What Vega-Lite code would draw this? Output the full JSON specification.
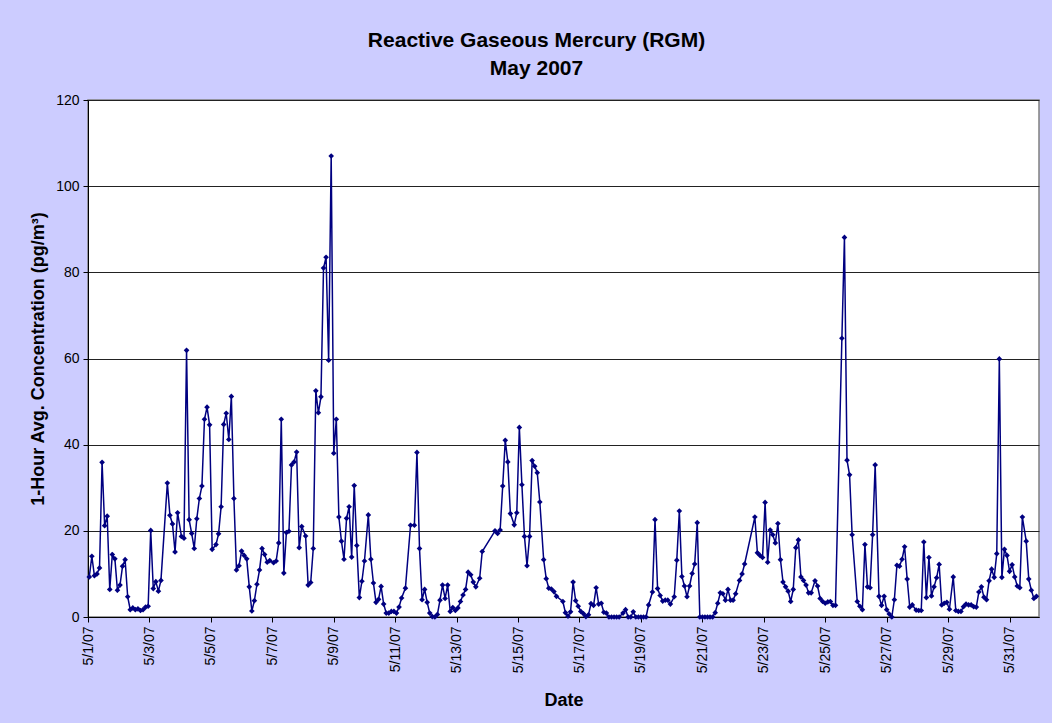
{
"$schema": "https://vega.github.io/schema/vega-lite/v6.json",
"width": 951, "height": 517,
"autosize": {"type": "none"},
"padding": {"left": 88, "top": 100, "right": 13, "bottom": 106},
"background": "#CCCCFF",
"title": {"text": ["Reactive Gaseous Mercury (RGM)", "May 2007"], "font": "Liberation Sans", "fontSize": 21, "fontWeight": "bold", "color": "black", "anchor": "middle", "dx": -27, "offset": 14, "lineHeight": 28},
"data": {"values": [
{"date":"2007-05-01T01:00","value":9.3},{"date":"2007-05-01T03:00","value":14.1},{"date":"2007-05-01T05:00","value":9.6},{"date":"2007-05-01T07:00","value":10.0},{"date":"2007-05-01T09:00","value":11.4},{"date":"2007-05-01T11:00","value":35.9},{"date":"2007-05-01T13:00","value":21.2},{"date":"2007-05-01T15:00","value":23.4},{"date":"2007-05-01T17:00","value":6.4},{"date":"2007-05-01T19:00","value":14.5},{"date":"2007-05-01T21:00","value":13.5},{"date":"2007-05-01T23:00","value":6.2},
{"date":"2007-05-02T01:00","value":7.4},{"date":"2007-05-02T03:00","value":11.8},{"date":"2007-05-02T05:00","value":13.3},{"date":"2007-05-02T07:00","value":4.7},{"date":"2007-05-02T09:00","value":1.7},{"date":"2007-05-02T11:00","value":2.1},{"date":"2007-05-02T13:00","value":1.7},{"date":"2007-05-02T15:00","value":1.9},{"date":"2007-05-02T17:00","value":1.5},{"date":"2007-05-02T19:00","value":1.7},{"date":"2007-05-02T21:00","value":2.3},{"date":"2007-05-02T23:00","value":2.5},
{"date":"2007-05-03T01:00","value":20.1},{"date":"2007-05-03T03:00","value":6.6},{"date":"2007-05-03T05:00","value":8.2},{"date":"2007-05-03T07:00","value":6.0},{"date":"2007-05-03T09:00","value":8.5},{"date":"2007-05-03T14:00","value":31.1},{"date":"2007-05-03T16:00","value":23.6},{"date":"2007-05-03T18:00","value":21.6},{"date":"2007-05-03T20:00","value":15.1},{"date":"2007-05-03T22:00","value":24.2},
{"date":"2007-05-04T01:00","value":18.7},{"date":"2007-05-04T03:00","value":18.3},{"date":"2007-05-04T05:00","value":61.9},{"date":"2007-05-04T07:00","value":22.6},{"date":"2007-05-04T09:00","value":19.4},{"date":"2007-05-04T11:00","value":15.9},{"date":"2007-05-04T13:00","value":22.8},{"date":"2007-05-04T15:00","value":27.5},{"date":"2007-05-04T17:00","value":30.4},{"date":"2007-05-04T19:00","value":45.9},{"date":"2007-05-04T21:00","value":48.7},{"date":"2007-05-04T23:00","value":44.6},
{"date":"2007-05-05T01:00","value":15.7},{"date":"2007-05-05T04:00","value":16.8},{"date":"2007-05-05T06:00","value":19.3},{"date":"2007-05-05T08:00","value":25.6},{"date":"2007-05-05T10:00","value":44.7},{"date":"2007-05-05T12:00","value":47.3},{"date":"2007-05-05T14:00","value":41.2},{"date":"2007-05-05T16:00","value":51.2},{"date":"2007-05-05T18:00","value":27.5},{"date":"2007-05-05T20:00","value":10.9},{"date":"2007-05-05T22:00","value":11.9},
{"date":"2007-05-06T00:00","value":15.3},{"date":"2007-05-06T02:00","value":14.3},{"date":"2007-05-06T04:00","value":13.5},{"date":"2007-05-06T06:00","value":7.0},{"date":"2007-05-06T08:00","value":1.4},{"date":"2007-05-06T10:00","value":3.8},{"date":"2007-05-06T12:00","value":7.6},{"date":"2007-05-06T14:00","value":10.9},{"date":"2007-05-06T16:00","value":15.9},{"date":"2007-05-06T18:00","value":14.5},{"date":"2007-05-06T20:00","value":12.7},{"date":"2007-05-06T22:00","value":13.1},
{"date":"2007-05-07T01:00","value":12.6},{"date":"2007-05-07T03:00","value":13.0},{"date":"2007-05-07T05:00","value":17.2},{"date":"2007-05-07T07:00","value":45.9},{"date":"2007-05-07T09:00","value":10.2},{"date":"2007-05-07T11:00","value":19.6},{"date":"2007-05-07T13:00","value":19.9},{"date":"2007-05-07T15:00","value":35.3},{"date":"2007-05-07T17:00","value":36.0},{"date":"2007-05-07T19:00","value":38.3},{"date":"2007-05-07T21:00","value":16.1},{"date":"2007-05-07T23:00","value":21.0},
{"date":"2007-05-08T02:00","value":18.8},{"date":"2007-05-08T04:00","value":7.4},{"date":"2007-05-08T06:00","value":8.0},{"date":"2007-05-08T08:00","value":15.9},{"date":"2007-05-08T10:00","value":52.5},{"date":"2007-05-08T12:00","value":47.4},{"date":"2007-05-08T14:00","value":51.1},{"date":"2007-05-08T16:00","value":81.0},{"date":"2007-05-08T18:00","value":83.5},{"date":"2007-05-08T20:00","value":59.6},{"date":"2007-05-08T22:00","value":107.0},
{"date":"2007-05-09T00:00","value":38.0},{"date":"2007-05-09T02:00","value":45.9},{"date":"2007-05-09T04:00","value":23.2},{"date":"2007-05-09T06:00","value":17.6},{"date":"2007-05-09T08:00","value":13.4},{"date":"2007-05-09T10:00","value":22.9},{"date":"2007-05-09T12:00","value":25.6},{"date":"2007-05-09T14:00","value":13.9},{"date":"2007-05-09T16:00","value":30.5},{"date":"2007-05-09T18:00","value":16.6},{"date":"2007-05-09T20:00","value":4.5},{"date":"2007-05-09T22:00","value":8.3},
{"date":"2007-05-10T00:00","value":13.0},{"date":"2007-05-10T03:00","value":23.7},{"date":"2007-05-10T05:00","value":13.4},{"date":"2007-05-10T07:00","value":7.9},{"date":"2007-05-10T09:00","value":3.4},{"date":"2007-05-10T11:00","value":4.1},{"date":"2007-05-10T13:00","value":7.1},{"date":"2007-05-10T15:00","value":3.0},{"date":"2007-05-10T17:00","value":0.9},{"date":"2007-05-10T19:00","value":0.9},{"date":"2007-05-10T21:00","value":1.3},{"date":"2007-05-10T23:00","value":1.3},
{"date":"2007-05-11T01:00","value":0.9},{"date":"2007-05-11T03:00","value":2.3},{"date":"2007-05-11T05:00","value":4.4},{"date":"2007-05-11T08:00","value":6.7},{"date":"2007-05-11T12:00","value":21.3},{"date":"2007-05-11T15:00","value":21.3},{"date":"2007-05-11T17:00","value":38.2},{"date":"2007-05-11T19:00","value":15.9},{"date":"2007-05-11T21:00","value":4.0},{"date":"2007-05-11T23:00","value":6.4},
{"date":"2007-05-12T01:00","value":3.4},{"date":"2007-05-12T03:00","value":0.9},{"date":"2007-05-12T05:00","value":0.1},{"date":"2007-05-12T07:00","value":0.0},{"date":"2007-05-12T09:00","value":0.6},{"date":"2007-05-12T11:00","value":3.9},{"date":"2007-05-12T13:00","value":7.4},{"date":"2007-05-12T15:00","value":4.3},{"date":"2007-05-12T17:00","value":7.4},{"date":"2007-05-12T19:00","value":1.3},{"date":"2007-05-12T21:00","value":2.2},{"date":"2007-05-12T23:00","value":1.5},
{"date":"2007-05-13T01:00","value":2.1},{"date":"2007-05-13T03:00","value":3.6},{"date":"2007-05-13T05:00","value":5.1},{"date":"2007-05-13T07:00","value":6.4},{"date":"2007-05-13T09:00","value":10.4},{"date":"2007-05-13T11:00","value":9.8},{"date":"2007-05-13T13:00","value":8.1},{"date":"2007-05-13T15:00","value":7.0},{"date":"2007-05-13T18:00","value":9.0},{"date":"2007-05-13T20:00","value":15.2},
{"date":"2007-05-14T06:00","value":20.0},{"date":"2007-05-14T08:00","value":19.4},{"date":"2007-05-14T10:00","value":20.2},{"date":"2007-05-14T12:00","value":30.4},{"date":"2007-05-14T14:00","value":41.0},{"date":"2007-05-14T16:00","value":36.0},{"date":"2007-05-14T18:00","value":24.0},{"date":"2007-05-14T21:00","value":21.4},{"date":"2007-05-14T23:00","value":24.2},
{"date":"2007-05-15T01:00","value":44.0},{"date":"2007-05-15T03:00","value":30.7},{"date":"2007-05-15T05:00","value":18.7},{"date":"2007-05-15T07:00","value":11.9},{"date":"2007-05-15T09:00","value":18.7},{"date":"2007-05-15T11:00","value":36.3},{"date":"2007-05-15T13:00","value":35.0},{"date":"2007-05-15T15:00","value":33.5},{"date":"2007-05-15T17:00","value":26.7},{"date":"2007-05-15T20:00","value":13.3},{"date":"2007-05-15T22:00","value":8.9},
{"date":"2007-05-16T00:00","value":6.7},{"date":"2007-05-16T02:00","value":6.5},{"date":"2007-05-16T04:00","value":5.9},{"date":"2007-05-16T06:00","value":4.8},{"date":"2007-05-16T11:00","value":3.6},{"date":"2007-05-16T13:00","value":1.0},{"date":"2007-05-16T15:00","value":0.2},{"date":"2007-05-16T17:00","value":1.2},{"date":"2007-05-16T19:00","value":8.1},{"date":"2007-05-16T21:00","value":3.8},{"date":"2007-05-16T23:00","value":2.5},
{"date":"2007-05-17T01:00","value":1.3},{"date":"2007-05-17T03:00","value":0.8},{"date":"2007-05-17T05:00","value":0.1},{"date":"2007-05-17T07:00","value":0.5},{"date":"2007-05-17T09:00","value":3.1},{"date":"2007-05-17T11:00","value":2.7},{"date":"2007-05-17T13:00","value":6.8},{"date":"2007-05-17T15:00","value":3.0},{"date":"2007-05-17T17:00","value":3.2},{"date":"2007-05-17T19:00","value":1.1},{"date":"2007-05-17T21:00","value":0.9},{"date":"2007-05-17T23:00","value":0.0},
{"date":"2007-05-18T01:00","value":0.0},{"date":"2007-05-18T03:00","value":0.0},{"date":"2007-05-18T05:00","value":0.0},{"date":"2007-05-18T07:00","value":0.0},{"date":"2007-05-18T10:00","value":0.9},{"date":"2007-05-18T12:00","value":1.7},{"date":"2007-05-18T14:00","value":0.0},{"date":"2007-05-18T16:00","value":0.0},{"date":"2007-05-18T18:00","value":1.2},{"date":"2007-05-18T20:00","value":0.0},{"date":"2007-05-18T22:00","value":0.0},
{"date":"2007-05-19T00:00","value":0.0},{"date":"2007-05-19T02:00","value":0.0},{"date":"2007-05-19T04:00","value":0.0},{"date":"2007-05-19T06:00","value":2.8},{"date":"2007-05-19T09:00","value":5.8},{"date":"2007-05-19T11:00","value":22.6},{"date":"2007-05-19T13:00","value":6.6},{"date":"2007-05-19T15:00","value":5.0},{"date":"2007-05-19T17:00","value":3.7},{"date":"2007-05-19T19:00","value":3.9},{"date":"2007-05-19T21:00","value":3.9},{"date":"2007-05-19T23:00","value":3.0},
{"date":"2007-05-20T02:00","value":4.7},{"date":"2007-05-20T04:00","value":13.2},{"date":"2007-05-20T06:00","value":24.6},{"date":"2007-05-20T08:00","value":9.4},{"date":"2007-05-20T10:00","value":7.2},{"date":"2007-05-20T12:00","value":4.7},{"date":"2007-05-20T14:00","value":7.2},{"date":"2007-05-20T16:00","value":10.1},{"date":"2007-05-20T18:00","value":12.3},{"date":"2007-05-20T20:00","value":21.9},{"date":"2007-05-20T22:00","value":0.0},
{"date":"2007-05-21T00:00","value":0.0},{"date":"2007-05-21T02:00","value":0.0},{"date":"2007-05-21T04:00","value":0.0},{"date":"2007-05-21T06:00","value":0.0},{"date":"2007-05-21T08:00","value":0.0},{"date":"2007-05-21T10:00","value":1.0},{"date":"2007-05-21T12:00","value":3.2},{"date":"2007-05-21T14:00","value":5.6},{"date":"2007-05-21T16:00","value":5.4},{"date":"2007-05-21T18:00","value":3.9},{"date":"2007-05-21T20:00","value":6.4},{"date":"2007-05-21T22:00","value":3.9},
{"date":"2007-05-22T00:00","value":3.9},{"date":"2007-05-22T02:00","value":5.4},{"date":"2007-05-22T05:00","value":8.5},{"date":"2007-05-22T07:00","value":10.0},{"date":"2007-05-22T09:00","value":12.3},{"date":"2007-05-22T17:00","value":23.2},{"date":"2007-05-22T19:00","value":14.9},{"date":"2007-05-22T21:00","value":14.3},{"date":"2007-05-22T23:00","value":13.8},
{"date":"2007-05-23T01:00","value":26.6},{"date":"2007-05-23T03:00","value":12.7},{"date":"2007-05-23T05:00","value":20.2},{"date":"2007-05-23T07:00","value":19.1},{"date":"2007-05-23T09:00","value":17.2},{"date":"2007-05-23T11:00","value":21.7},{"date":"2007-05-23T13:00","value":13.3},{"date":"2007-05-23T15:00","value":8.1},{"date":"2007-05-23T17:00","value":7.0},{"date":"2007-05-23T19:00","value":6.0},{"date":"2007-05-23T21:00","value":3.6},{"date":"2007-05-23T23:00","value":6.4},
{"date":"2007-05-24T01:00","value":16.1},{"date":"2007-05-24T03:00","value":17.9},{"date":"2007-05-24T05:00","value":9.3},{"date":"2007-05-24T07:00","value":8.5},{"date":"2007-05-24T09:00","value":7.4},{"date":"2007-05-24T11:00","value":5.6},{"date":"2007-05-24T13:00","value":5.6},{"date":"2007-05-24T16:00","value":8.4},{"date":"2007-05-24T18:00","value":7.2},{"date":"2007-05-24T20:00","value":4.3},{"date":"2007-05-24T22:00","value":3.6},
{"date":"2007-05-25T00:00","value":3.2},{"date":"2007-05-25T02:00","value":3.5},{"date":"2007-05-25T04:00","value":3.6},{"date":"2007-05-25T06:00","value":2.7},{"date":"2007-05-25T08:00","value":2.7},{"date":"2007-05-25T13:00","value":64.7},{"date":"2007-05-25T15:00","value":88.1},{"date":"2007-05-25T17:00","value":36.4},{"date":"2007-05-25T19:00","value":33.0},{"date":"2007-05-25T21:00","value":19.1},
{"date":"2007-05-26T01:00","value":3.6},{"date":"2007-05-26T03:00","value":2.5},{"date":"2007-05-26T05:00","value":1.7},{"date":"2007-05-26T07:00","value":16.8},{"date":"2007-05-26T09:00","value":7.0},{"date":"2007-05-26T11:00","value":6.8},{"date":"2007-05-26T13:00","value":19.1},{"date":"2007-05-26T15:00","value":35.3},{"date":"2007-05-26T18:00","value":4.8},{"date":"2007-05-26T20:00","value":2.7},{"date":"2007-05-26T22:00","value":4.8},
{"date":"2007-05-27T00:00","value":1.7},{"date":"2007-05-27T02:00","value":0.7},{"date":"2007-05-27T04:00","value":0.0},{"date":"2007-05-27T06:00","value":4.0},{"date":"2007-05-27T08:00","value":12.0},{"date":"2007-05-27T10:00","value":11.8},{"date":"2007-05-27T12:00","value":13.4},{"date":"2007-05-27T14:00","value":16.3},{"date":"2007-05-27T16:00","value":8.8},{"date":"2007-05-27T18:00","value":2.3},{"date":"2007-05-27T20:00","value":2.8},{"date":"2007-05-27T23:00","value":1.6},
{"date":"2007-05-28T01:00","value":1.5},{"date":"2007-05-28T03:00","value":1.5},{"date":"2007-05-28T05:00","value":17.4},{"date":"2007-05-28T07:00","value":4.5},{"date":"2007-05-28T09:00","value":13.8},{"date":"2007-05-28T11:00","value":4.9},{"date":"2007-05-28T13:00","value":7.0},{"date":"2007-05-28T15:00","value":9.1},{"date":"2007-05-28T17:00","value":12.2},{"date":"2007-05-28T19:00","value":2.8},{"date":"2007-05-28T21:00","value":3.2},{"date":"2007-05-28T23:00","value":3.4},
{"date":"2007-05-29T01:00","value":1.8},{"date":"2007-05-29T04:00","value":9.3},{"date":"2007-05-29T06:00","value":1.5},{"date":"2007-05-29T08:00","value":1.3},{"date":"2007-05-29T10:00","value":1.3},{"date":"2007-05-29T12:00","value":2.4},{"date":"2007-05-29T14:00","value":3.0},{"date":"2007-05-29T16:00","value":2.8},{"date":"2007-05-29T18:00","value":2.8},{"date":"2007-05-29T20:00","value":2.4},{"date":"2007-05-29T22:00","value":2.3},
{"date":"2007-05-30T00:00","value":5.8},{"date":"2007-05-30T02:00","value":7.0},{"date":"2007-05-30T04:00","value":4.6},{"date":"2007-05-30T06:00","value":4.0},{"date":"2007-05-30T08:00","value":8.4},{"date":"2007-05-30T10:00","value":11.1},{"date":"2007-05-30T12:00","value":9.2},{"date":"2007-05-30T14:00","value":14.7},{"date":"2007-05-30T16:00","value":59.9},{"date":"2007-05-30T18:00","value":9.2},{"date":"2007-05-30T20:00","value":15.7},{"date":"2007-05-30T22:00","value":14.3},
{"date":"2007-05-31T00:00","value":10.6},{"date":"2007-05-31T02:00","value":12.1},{"date":"2007-05-31T04:00","value":9.3},{"date":"2007-05-31T06:00","value":7.2},{"date":"2007-05-31T08:00","value":6.8},{"date":"2007-05-31T10:00","value":23.2},{"date":"2007-05-31T13:00","value":17.6},{"date":"2007-05-31T15:00","value":8.8},{"date":"2007-05-31T17:00","value":6.2},{"date":"2007-05-31T19:00","value":4.3},{"date":"2007-05-31T21:00","value":4.8}
]},
"mark": {"type": "line", "color": "#000080", "strokeWidth": 1.5, "point": {"shape": "diamond", "filled": true, "size": 32, "color": "#000080", "opacity": 1}},
"encoding": {
  "x": {"field": "date", "type": "temporal",
    "scale": {"domain": [{"year": 2007, "month": 5, "date": 1}, {"year": 2007, "month": 5, "date": 31, "hours": 23}]},
    "axis": {"values": [{"year":2007,"month":5,"date":1},{"year":2007,"month":5,"date":3},{"year":2007,"month":5,"date":5},{"year":2007,"month":5,"date":7},{"year":2007,"month":5,"date":9},{"year":2007,"month":5,"date":11},{"year":2007,"month":5,"date":13},{"year":2007,"month":5,"date":15},{"year":2007,"month":5,"date":17},{"year":2007,"month":5,"date":19},{"year":2007,"month":5,"date":21},{"year":2007,"month":5,"date":23},{"year":2007,"month":5,"date":25},{"year":2007,"month":5,"date":27},{"year":2007,"month":5,"date":29},{"year":2007,"month":5,"date":31}],
      "format": "%-m/%-d/%y", "labelAngle": -90, "title": "Date", "grid": false, "labelPadding": 4, "titlePadding": 19}},
  "y": {"field": "value", "type": "quantitative", "scale": {"domain": [0, 120], "nice": false},
    "axis": {"values": [0, 20, 40, 60, 80, 100, 120], "title": "1-Hour Avg. Concentration (pg/m³)", "grid": true, "labelPadding": 4, "titlePadding": 8}}
},
"config": {
  "view": {"fill": "white", "stroke": "#808080", "strokeWidth": 1.5},
  "axis": {"labelFont": "Liberation Sans", "titleFont": "Liberation Sans", "labelColor": "black", "titleColor": "black", "labelFontSize": 14, "titleFontSize": 18, "titleFontWeight": "bold", "domainColor": "black", "tickColor": "black", "tickSize": 5, "gridColor": "#222222", "gridOpacity": 1, "gridWidth": 1}
}
}
